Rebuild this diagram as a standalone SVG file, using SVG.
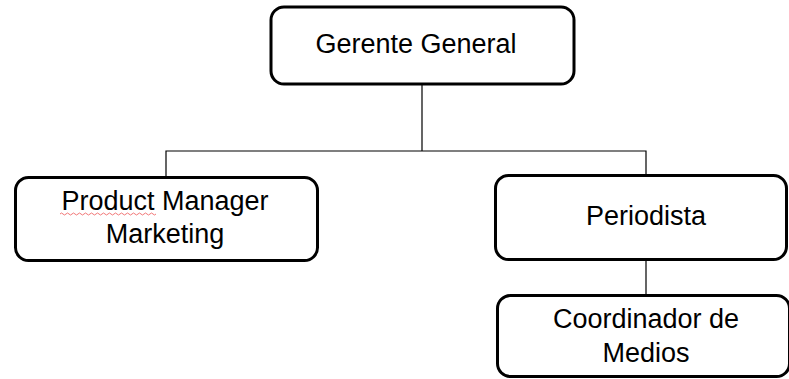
<svg xmlns="http://www.w3.org/2000/svg" width="789" height="379" viewBox="0 0 789 379">
<style>
.box{fill:#fff;stroke:#000;stroke-width:3}
.lbl{font-family:"Liberation Sans",Arial,sans-serif;font-size:27px;fill:#000;text-anchor:middle}
.conn{fill:none;stroke:#000;stroke-width:1.2}
</style>
<rect width="789" height="379" fill="#fff"/>
<g id="connectors">
<path class="conn" d="M422 85V151M166 177V151H646V176M646 260V295"/>
</g>
<g id="gerente">
<rect class="box" x="271" y="7" width="303" height="77" rx="13"/>
<text class="lbl" x="416" y="53">Gerente General</text>
</g>
<g id="product">
<rect class="box" x="15.5" y="177.5" width="302" height="83" rx="13"/>
<text class="lbl" x="165" y="210">Product Manager</text>
<text class="lbl" x="165" y="243">Marketing</text>
<path d="M60 214q1.5-2 3 0t3 0t3 0t3 0t3 0t3 0t3 0t3 0t3 0t3 0t3 0t3 0t3 0t3 0t3 0t3 0t3 0t3 0t3 0t3 0t3 0t3 0t3 0t3 0t3 0t3 0t3 0t3 0t3 0t3 0t3 0t3 0" fill="none" stroke="#e55" stroke-width="0.8"/>
</g>
<g id="periodista">
<rect class="box" x="495.5" y="175.5" width="291" height="84" rx="13"/>
<text class="lbl" x="646" y="225">Periodista</text>
</g>
<g id="coordinador">
<rect class="box" x="497.5" y="295.5" width="292" height="81" rx="13"/>
<text class="lbl" x="646" y="328">Coordinador de</text>
<text class="lbl" x="646" y="362">Medios</text>
</g>
</svg>
